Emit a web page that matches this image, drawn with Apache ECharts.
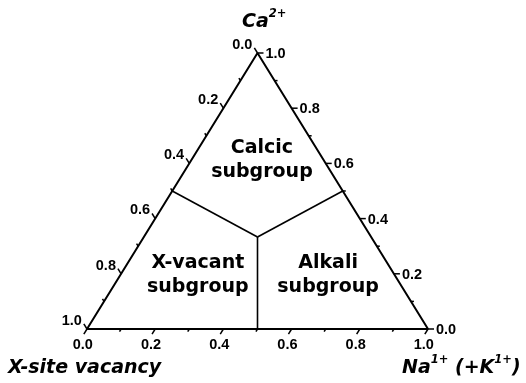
<!DOCTYPE html>
<html><head><meta charset="utf-8">
<script src="https://cdn.jsdelivr.net/npm/echarts@6/dist/echarts.min.js"></script>
<style>html,body{margin:0;padding:0;background:#fff}#c{width:526px;height:383px}</style>
</head><body><div id="c"></div>
<script>
// Ternary component order: [X-site vacancy, Na(+K), Ca]
const tickValues = [0, 0.1, 0.2, 0.3, 0.4, 0.5, 0.6, 0.7, 0.8, 0.9, 1.0];
const majorTickLabels = ['0.0', '0.2', '0.4', '0.6', '0.8', '1.0'];
const vertexVacancy = [1, 0, 0];
const vertexNa = [0, 1, 0];
const vertexCa = [0, 0, 1];
const boundaryCenter = [1/3, 1/3, 1/3];
const boundaryEnds = [[0.5, 0, 0.5], [0, 0.5, 0.5], [0.5, 0.5, 0]];
const regionNames = ['Calcic\nsubgroup', 'X-vacant\nsubgroup', 'Alkali\nsubgroup'];
const regionPositions = [[0.181, 0.207, 0.612], [0.577, 0.227, 0.196], [0.195, 0.609, 0.196]];

function toXY(t) {
  const s = t[0] + t[1] + t[2];
  return [(t[1] + 0.5 * t[2]) / s, t[2] / s];
}

const TICK_FONT = 'bold 14.5px "Liberation Sans", Arial, sans-serif';
const REGION_FONT = 'bold 19px "DejaVu Sans", sans-serif';

function tickSeries(pointFn, dirFrom, dirTo, labelPlace) {
  return {
    type: 'custom',
    coordinateSystem: 'cartesian2d',
    silent: true,
    clip: false,
    encode: { x: 0, y: 1 },
    data: tickValues.map(v => { const xy = toXY(pointFn(v)); return [xy[0], xy[1], v]; }),
    renderItem: function (params, api) {
      const p = api.coord([api.value(0), api.value(1)]);
      const v = api.value(2);
      const a = api.coord(toXY(dirFrom));
      const b = api.coord(toXY(dirTo));
      let dx = b[0] - a[0], dy = b[1] - a[1];
      const n = Math.sqrt(dx * dx + dy * dy);
      dx /= n; dy /= n;
      const k = Math.round(v * 10);
      const major = k % 2 === 0;
      const len = major ? 6 : 3;
      const e = [p[0] + dx * len, p[1] + dy * len];
      const children = [{
        type: 'line',
        shape: { x1: p[0], y1: p[1], x2: e[0], y2: e[1] },
        style: { stroke: '#000', lineWidth: 1.5 }
      }];
      if (major) {
        const lp = labelPlace(e);
        children.push({
          type: 'text',
          x: lp.x, y: lp.y,
          style: {
            text: majorTickLabels[k / 2], font: TICK_FONT, fill: '#000',
            align: lp.align, verticalAlign: lp.va,
            textAlign: lp.align, textVerticalAlign: lp.va
          }
        });
      }
      return { type: 'group', children: children };
    }
  };
}

const series = [];
series.push({
  type: 'line', silent: true, clip: false, symbol: 'none', animation: false,
  data: [vertexVacancy, vertexNa, vertexCa, vertexVacancy].map(toXY),
  lineStyle: { color: '#000', width: 2 }
});
boundaryEnds.forEach(e => {
  series.push({
    type: 'line', silent: true, clip: false, symbol: 'none', animation: false,
    data: [boundaryCenter, e].map(toXY),
    lineStyle: { color: '#000', width: 1.6 }
  });
});
series.push(tickSeries(v => [1 - v, v, 0], vertexCa, vertexVacancy,
  e => ({ x: e[0] - 1, y: e[1] + 3, align: 'center', va: 'top' })));
series.push(tickSeries(v => [0, 1 - v, v], vertexVacancy, vertexNa,
  e => ({ x: e[0] + 2, y: e[1] + 1, align: 'left', va: 'middle' })));
series.push(tickSeries(v => [v, 0, 1 - v], vertexNa, vertexCa,
  e => ({ x: e[0] - 2, y: e[1] - 3, align: 'right', va: 'middle' })));
// region labels
series.push({
  type: 'custom', coordinateSystem: 'cartesian2d', silent: true, clip: false,
  encode: { x: 0, y: 1 },
  data: regionPositions.map((t, i) => { const xy = toXY(t); return [xy[0], xy[1], i]; }),
  renderItem: function (params, api) {
    const p = api.coord([api.value(0), api.value(1)]);
    return {
      type: 'text', x: p[0], y: p[1],
      style: {
        text: regionNames[api.value(2)], font: REGION_FONT, fill: '#000', lineHeight: 24,
        align: 'center', verticalAlign: 'middle', textAlign: 'center', textVerticalAlign: 'middle'
      }
    };
  }
});

const richTitle = {
  m: { fontFamily: '"DejaVu Sans", sans-serif', fontWeight: 'bold', fontStyle: 'italic', fontSize: 19, lineHeight: 28, fill: '#000', color: '#000' },
  s: { fontFamily: '"DejaVu Sans", sans-serif', fontWeight: 'bold', fontStyle: 'italic', fontSize: 11.5, lineHeight: 13, verticalAlign: 'top', fill: '#000', color: '#000' }
};

const chart = echarts.init(document.getElementById('c'), null, { renderer: 'canvas' });
chart.setOption({
  animation: false,
  backgroundColor: '#fff',
  grid: { left: 87, right: 98, top: 53, bottom: 54 },
  xAxis: { type: 'value', min: 0, max: 1, show: false },
  yAxis: { type: 'value', min: 0, max: 1, show: false },
  series: series,
  graphic: [
    { type: 'text', x: 242, y: 22, silent: true,
      style: { text: '{m|Ca}{s|2+}', rich: richTitle, align: 'left', verticalAlign: 'middle', textAlign: 'left', textVerticalAlign: 'middle' } },
    { type: 'text', x: 8, y: 368, silent: true,
      style: { text: 'X-site vacancy', font: 'italic bold 19px "DejaVu Sans", sans-serif', fill: '#000', align: 'left', verticalAlign: 'middle', textAlign: 'left', textVerticalAlign: 'middle' } },
    { type: 'text', x: 402, y: 368, silent: true,
      style: { text: '{m|Na}{s|1+}{m| (+K}{s|1+}{m|)}', rich: richTitle, align: 'left', verticalAlign: 'middle', textAlign: 'left', textVerticalAlign: 'middle' } }
  ]
});
</script></body></html>
